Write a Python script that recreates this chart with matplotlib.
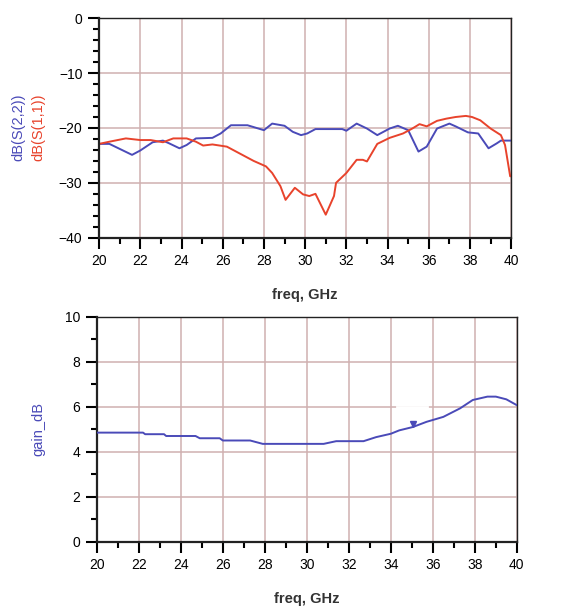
import matplotlib.pyplot as plt
from matplotlib.ticker import MultipleLocator

# S-parameters (top plot)
freq_s22 = [20, 20.5, 21.6, 22.0, 22.6, 23.1, 23.4, 23.9, 24.25, 24.7, 25.5, 25.9, 26.4, 27.2,
            28.0, 28.4, 29.0, 29.4, 29.8, 30.1, 30.5, 31.4, 31.8, 32.0, 32.5, 33.0, 33.5, 34.1,
            34.5, 35.0, 35.5, 35.9, 36.4, 37.0, 37.3, 37.9, 38.4, 38.9, 39.3, 39.5, 40]
s22 = [-22.9, -22.9, -24.9, -24.1, -22.6, -22.3, -22.8, -23.7, -23.1, -21.9, -21.8, -21.0, -19.5, -19.5,
       -20.4, -19.2, -19.6, -20.7, -21.3, -21.0, -20.2, -20.2, -20.2, -20.5, -19.2, -20.1, -21.3, -20.1,
       -19.6, -20.4, -24.3, -23.4, -20.1, -19.2, -19.7, -20.8, -21.0, -23.7, -22.8, -22.3, -22.3]

freq_s11 = [20, 20.5, 21.3, 22.0, 22.5, 23.1, 23.6, 24.25, 24.7, 25.05, 25.5, 26.2, 26.8, 27.5,
            28.1, 28.4, 28.8, 29.05, 29.5, 29.9, 30.2, 30.5, 31.0, 31.4, 31.5, 32.0, 32.5, 32.8,
            33.0, 33.5, 34.1, 34.75, 35.2, 35.55, 35.9, 36.4, 36.85, 37.3, 37.8, 38.1, 38.5, 39.0,
            39.5, 39.7, 39.95, 40]
s11 = [-22.9, -22.5, -21.9, -22.2, -22.2, -22.6, -21.9, -21.9, -22.5, -23.2, -23.0, -23.4, -24.6, -26.0,
       -27.0, -28.2, -30.6, -33.1, -30.9, -32.1, -32.4, -32.0, -35.8, -32.4, -30.0, -28.2, -25.8, -25.8,
       -26.1, -22.9, -21.8, -21.0, -20.1, -19.3, -19.7, -18.7, -18.3, -18.0, -17.8, -18.0, -18.6, -20.1,
       -21.3, -23.1, -28.8, -28.8]

# gain (bottom plot)
freq_gain = [20, 22.2, 22.3, 23.2, 23.3, 24.7, 24.9, 25.85, 26.0, 27.3, 27.9, 30.8, 31.4, 32.7,
             33.3, 34.0, 34.4, 35.05, 35.7, 36.5, 37.3, 37.9, 38.6, 39.0, 39.5, 40]
gain = [4.85, 4.85, 4.78, 4.78, 4.7, 4.7, 4.6, 4.6, 4.5, 4.5, 4.35, 4.35, 4.47, 4.47,
        4.65, 4.8, 4.95, 5.1, 5.33, 5.55, 5.93, 6.3, 6.45, 6.45, 6.33, 6.07]

blue = '#4a4ab8'
red = '#e8432c'
gridc = '#d0b0b0'

plt.rcParams['font.family'] = ['Liberation Sans', 'DejaVu Sans']

fig = plt.figure(figsize=(5.63, 6.08), dpi=100)
ax1 = fig.add_axes([0.176, 0.609, 0.732, 0.361])
ax2 = fig.add_axes([0.172, 0.109, 0.746, 0.370])


def style(ax, ymin, ymax, ymaj, ymin_step):
    ax.set_xlim(20, 40)
    ax.set_ylim(ymin, ymax)
    ax.xaxis.set_major_locator(MultipleLocator(2))
    ax.xaxis.set_minor_locator(MultipleLocator(1))
    ax.yaxis.set_major_locator(MultipleLocator(ymaj))
    ax.yaxis.set_minor_locator(MultipleLocator(ymin_step))
    ax.grid(True, which='major', color=gridc, linewidth=1.1)
    ax.tick_params(which='major', direction='out', length=8, width=1.5, labelsize=10, pad=4)
    ax.tick_params(which='minor', direction='out', length=4, width=1.5)
    for s in ax.spines.values():
        s.set_color('#222222')
        s.set_linewidth(1.0)
    ax.spines['left'].set_linewidth(1.6)
    ax.spines['bottom'].set_linewidth(1.6)
    ax.set_xlabel('freq, GHz', fontsize=10.5, fontweight='bold', color='#333333', labelpad=14)
    ax.set_axisbelow(True)


style(ax1, -40, 0, 10, 2)
ax1.plot(freq_s22, s22, color=blue, linewidth=1.4)
ax1.plot(freq_s11, s11, color=red, linewidth=1.4)
fig.text(0.032, 0.79, 'dB(S(2,2))', color=blue, rotation=90, ha='center', va='center', fontsize=10.5)
fig.text(0.068, 0.79, 'dB(S(1,1))', color=red, rotation=90, ha='center', va='center', fontsize=10.5)

style(ax2, 0, 10, 2, 1)
# gap in the 6 dB grid line around the marker
ax2.plot([34.3, 35.7], [6, 6], color='white', linewidth=2, zorder=1.5)
ax2.plot(freq_gain, gain, color=blue, linewidth=1.4, zorder=3)
ax2.plot([35.05], [5.25], marker='v', color=blue, markersize=4, zorder=3)
ax2.set_ylabel('gain_dB', color=blue, fontsize=10.5, labelpad=14)

fig.savefig('out.png', dpi=100)
